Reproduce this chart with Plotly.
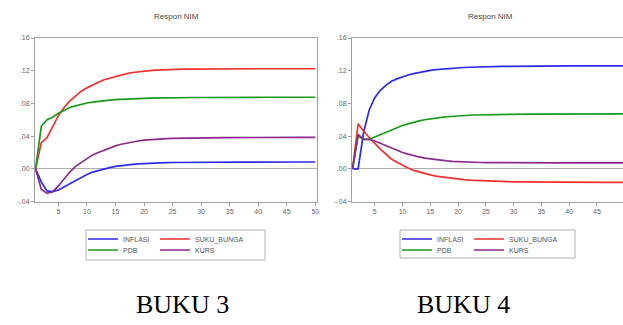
import plotly.graph_objects as go

periods = list(range(1, 51))
series_names = ["INFLASI", "SUKU_BUNGA", "PDB", "KURS"]
tick_vals = [-0.04, 0.00, 0.04, 0.08, 0.12, 0.16]
tick_text = ["-.04", ".00", ".04", ".08", ".12", ".16"]
x_ticks = [5, 10, 15, 20, 25, 30, 35, 40, 45, 50]
panel_titles = ["Respon NIM", "Respon NIM"]
panel_captions = ["BUKU 3", "BUKU 4"]

# BUKU 3
inflasi_3 = [0, -0.016, -0.027, -0.028, -0.026, -0.022, -0.018, -0.014, -0.010, -0.007,
             -0.004, -0.002, 0.000, 0.0015, 0.003, 0.004, 0.0048, 0.0055, 0.006, 0.0065,
             0.0069, 0.0072, 0.0074, 0.0076, 0.0077, 0.0078, 0.0079, 0.0080, 0.0080, 0.0081,
             0.0081, 0.0081, 0.0082, 0.0082, 0.0082, 0.0082, 0.0082, 0.0082, 0.0083, 0.0083,
             0.0083, 0.0083, 0.0083, 0.0083, 0.0083, 0.0083, 0.0083, 0.0083, 0.0083, 0.0083]
suku_bunga_3 = [0, 0.032, 0.038, 0.052, 0.065, 0.075, 0.083, 0.089, 0.095, 0.099,
                0.103, 0.106, 0.109, 0.111, 0.113, 0.115, 0.1165, 0.1178, 0.1188, 0.1196,
                0.1202, 0.1207, 0.1211, 0.1214, 0.1216, 0.1218, 0.1219, 0.1220, 0.1221, 0.1222,
                0.1222, 0.1223, 0.1223, 0.1223, 0.1224, 0.1224, 0.1224, 0.1224, 0.1224, 0.1224,
                0.1224, 0.1224, 0.1224, 0.1224, 0.1224, 0.1224, 0.1224, 0.1224, 0.1224, 0.1224]
pdb_3 = [0, 0.052, 0.060, 0.063, 0.068, 0.072, 0.075, 0.077, 0.079, 0.0805,
         0.0815, 0.0825, 0.0833, 0.084, 0.0845, 0.085, 0.0854, 0.0857, 0.086, 0.0862,
         0.0864, 0.0866, 0.0867, 0.0868, 0.0869, 0.0870, 0.0871, 0.0871, 0.0872, 0.0872,
         0.0873, 0.0873, 0.0873, 0.0874, 0.0874, 0.0874, 0.0874, 0.0875, 0.0875, 0.0875,
         0.0875, 0.0875, 0.0875, 0.0875, 0.0875, 0.0875, 0.0875, 0.0875, 0.0875, 0.0875]
kurs_3 = [0, -0.025, -0.030, -0.028, -0.021, -0.012, -0.004, 0.003, 0.008, 0.013,
          0.017, 0.020, 0.023, 0.026, 0.028, 0.030, 0.0315, 0.033, 0.034, 0.035,
          0.0357, 0.0362, 0.0366, 0.0369, 0.0372, 0.0374, 0.0376, 0.0377, 0.0378, 0.0379,
          0.0380, 0.0381, 0.0381, 0.0382, 0.0382, 0.0383, 0.0383, 0.0383, 0.0384, 0.0384,
          0.0384, 0.0384, 0.0385, 0.0385, 0.0385, 0.0385, 0.0385, 0.0385, 0.0385, 0.0385]

# BUKU 4
inflasi_4 = [0, 0.0, 0.045, 0.072, 0.087, 0.096, 0.102, 0.107, 0.110, 0.1125,
             0.1147, 0.1165, 0.118, 0.1193, 0.1204, 0.1213, 0.122, 0.1226, 0.1231, 0.1235,
             0.1239, 0.1242, 0.1245, 0.1247, 0.1249, 0.1251, 0.1252, 0.1253, 0.1254, 0.1255,
             0.1255, 0.1256, 0.1256, 0.1257, 0.1257, 0.1257, 0.1258, 0.1258, 0.1258, 0.1258,
             0.1258, 0.1258, 0.1258, 0.1258, 0.1258, 0.1258, 0.1258, 0.1258, 0.1258, 0.1258]
suku_bunga_4 = [0, 0.055, 0.046, 0.038, 0.031, 0.024, 0.018, 0.012, 0.008, 0.004,
                0.001, -0.002, -0.004, -0.006, -0.0075, -0.009, -0.010, -0.011, -0.012, -0.0127,
                -0.0133, -0.0138, -0.0142, -0.0146, -0.0149, -0.0152, -0.0154, -0.0156, -0.0158, -0.0159,
                -0.0160, -0.0161, -0.0162, -0.0163, -0.0164, -0.0164, -0.0165, -0.0165, -0.0166, -0.0166,
                -0.0167, -0.0167, -0.0167, -0.0167, -0.0167, -0.0167, -0.0167, -0.0167, -0.0167, -0.0167]
pdb_4 = [0, 0.040, 0.036, 0.036, 0.039, 0.042, 0.045, 0.048, 0.051, 0.053,
         0.055, 0.057, 0.0587, 0.060, 0.0612, 0.0622, 0.063, 0.0637, 0.0643, 0.0648,
         0.0652, 0.0655, 0.0658, 0.0660, 0.0662, 0.0664, 0.0665, 0.0666, 0.0667, 0.0668,
         0.0669, 0.0669, 0.0670, 0.0670, 0.0670, 0.0671, 0.0671, 0.0671, 0.0671, 0.0671,
         0.0672, 0.0672, 0.0672, 0.0672, 0.0672, 0.0672, 0.0672, 0.0672, 0.0672, 0.0672]
kurs_4 = [0, 0.042, 0.036, 0.036, 0.034, 0.031, 0.028, 0.025, 0.0225, 0.020,
          0.018, 0.016, 0.0145, 0.013, 0.012, 0.011, 0.0102, 0.0096, 0.0090, 0.0086,
          0.0083, 0.0080, 0.0078, 0.0077, 0.0076, 0.0075, 0.0074, 0.0074, 0.0073, 0.0073,
          0.0073, 0.0072, 0.0072, 0.0072, 0.0072, 0.0072, 0.0072, 0.0072, 0.0072, 0.0072,
          0.0072, 0.0072, 0.0072, 0.0072, 0.0072, 0.0072, 0.0072, 0.0072, 0.0072, 0.0072]

colors = {"INFLASI": "#2b2bf0", "SUKU_BUNGA": "#f03030", "PDB": "#1a9a1a", "KURS": "#8a2a8a"}

W, H = 623, 325
def px_x(v):
    return v / W
def px_y(v):
    return 1 - v / H

fig = go.Figure()

# legend slot (column, row) for each series within a panel's legend box
slot = {"INFLASI": (0, 0), "SUKU_BUNGA": (1, 0), "PDB": (0, 1), "KURS": (1, 1)}
panels = [
    ({"INFLASI": inflasi_3, "SUKU_BUNGA": suku_bunga_3, "PDB": pdb_3, "KURS": kurs_3}, "x", "y", 83),
    ({"INFLASI": inflasi_4, "SUKU_BUNGA": suku_bunga_4, "PDB": pdb_4, "KURS": kurs_4}, "x2", "y2", 397),
]
leg_font = dict(family="Liberation Sans, Arial", size=7, color="#555")
legend_layouts = {}
k = 0
for data, xa, ya, lx in panels:
    for name in series_names:
        k += 1
        lname = "legend" if k == 1 else f"legend{k}"
        col, row = slot[name]
        legend_layouts[lname] = dict(
            x=px_x(lx + 72 * col), y=px_y(239 + 11 * row),
            xanchor="left", yanchor="middle", orientation="h",
            font=leg_font, bgcolor="rgba(0,0,0,0)", borderwidth=0, itemwidth=30,
        )
        fig.add_trace(go.Scatter(
            x=periods, y=data[name], mode="lines", name=name,
            line=dict(color=colors[name], width=1.7),
            xaxis=xa, yaxis=ya, legend=lname, showlegend=True,
        ))

axis_font = dict(family="Liberation Sans, Arial", size=7, color="#666")
common_x = dict(tickvals=x_ticks, ticktext=[str(t) for t in x_ticks], showgrid=False,
                zeroline=False, showline=True, linecolor="#a0a0a0", linewidth=1,
                ticks="outside", ticklen=3, tickcolor="#a0a0a0", tickfont=axis_font)
common_y = dict(range=[-0.04, 0.16], tickvals=tick_vals, ticktext=tick_text, showgrid=False,
                zeroline=True, zerolinecolor="#b0b0b0", zerolinewidth=1,
                showline=True, linecolor="#a0a0a0", linewidth=1,
                ticks="outside", ticklen=3, tickcolor="#a0a0a0", tickfont=axis_font)

ydom = [px_y(201.5), px_y(38)]
fig.update_layout(
    width=W, height=H, margin=dict(l=0, r=0, t=0, b=0, autoexpand=False),
    paper_bgcolor="white", plot_bgcolor="white",
    xaxis=dict(domain=[px_x(35), px_x(317)], range=[0.9, 50.3], mirror=True, anchor="y", **common_x),
    yaxis=dict(domain=ydom, anchor="x", mirror=True, **common_y),
    xaxis2=dict(domain=[px_x(352), 1.0], range=[0.9, 49.7], mirror=True, anchor="y2", **common_x),
    yaxis2=dict(domain=ydom, anchor="x2", mirror=False, **common_y),
    **legend_layouts,
)

fig.add_shape(type="rect", xref="paper", yref="paper",
              x0=px_x(86), x1=px_x(265), y0=px_y(260), y1=px_y(230),
              line=dict(color="#b0b0b0", width=1))
fig.add_shape(type="rect", xref="paper", yref="paper",
              x0=px_x(400), x1=px_x(575), y0=px_y(258), y1=px_y(230),
              line=dict(color="#b0b0b0", width=1))

title_centers = [176, 490]
for t, cx in zip(panel_titles, title_centers):
    fig.add_annotation(text=t, x=px_x(cx), y=px_y(17), xref="paper", yref="paper",
                       showarrow=False, xanchor="center", yanchor="middle",
                       font=dict(family="Liberation Sans, Arial", size=8, color="#444"))

caption_centers = [182, 463]
for t, cx in zip(panel_captions, caption_centers):
    fig.add_annotation(text=t, x=px_x(cx), y=px_y(304), xref="paper", yref="paper",
                       showarrow=False, xanchor="center", yanchor="middle",
                       font=dict(family="Liberation Serif, Times New Roman", size=26, color="black"))

fig.write_html("out.html", config={"displayModeBar": False},
               post_script="document.body.style.margin='0';document.body.style.overflow='hidden';")
